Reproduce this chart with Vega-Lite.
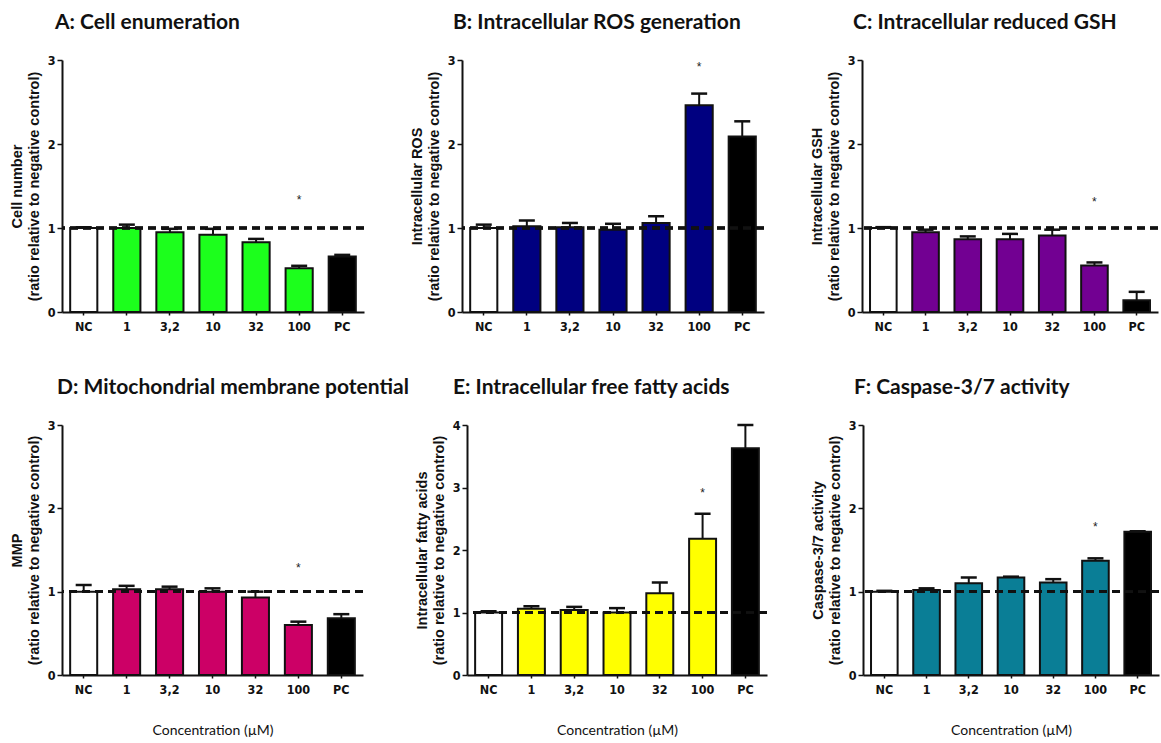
{
  "$schema": "https://vega.github.io/schema/vega-lite/v6.json",
  "background": "white",
  "padding": {"left": 9, "top": 12, "right": 0, "bottom": 0},
  "datasets": {
    "d": [
      {"panel": "A", "conc": "NC", "grp": "NC", "value": 1.0, "hi": 1.01},
      {"panel": "A", "conc": "1", "grp": "A", "value": 1.0, "hi": 1.04},
      {"panel": "A", "conc": "3,2", "grp": "A", "value": 0.95, "hi": 0.99},
      {"panel": "A", "conc": "10", "grp": "A", "value": 0.92, "hi": 0.99},
      {"panel": "A", "conc": "32", "grp": "A", "value": 0.83, "hi": 0.87},
      {"panel": "A", "conc": "100", "grp": "A", "value": 0.52, "hi": 0.55, "star": 1.33},
      {"panel": "A", "conc": "PC", "grp": "PC", "value": 0.66, "hi": 0.68},
      {"panel": "B", "conc": "NC", "grp": "NC", "value": 1.0, "hi": 1.04},
      {"panel": "B", "conc": "1", "grp": "B", "value": 1.02, "hi": 1.09},
      {"panel": "B", "conc": "3,2", "grp": "B", "value": 1.01, "hi": 1.06},
      {"panel": "B", "conc": "10", "grp": "B", "value": 0.98, "hi": 1.05},
      {"panel": "B", "conc": "32", "grp": "B", "value": 1.06, "hi": 1.14},
      {"panel": "B", "conc": "100", "grp": "B", "value": 2.46, "hi": 2.6, "star": 2.92},
      {"panel": "B", "conc": "PC", "grp": "PC", "value": 2.09, "hi": 2.27},
      {"panel": "C", "conc": "NC", "grp": "NC", "value": 1.0, "hi": 1.01},
      {"panel": "C", "conc": "1", "grp": "C", "value": 0.95, "hi": 0.98},
      {"panel": "C", "conc": "3,2", "grp": "C", "value": 0.865, "hi": 0.9},
      {"panel": "C", "conc": "10", "grp": "C", "value": 0.865, "hi": 0.93},
      {"panel": "C", "conc": "32", "grp": "C", "value": 0.91, "hi": 0.98},
      {"panel": "C", "conc": "100", "grp": "C", "value": 0.555, "hi": 0.59, "star": 1.31},
      {"panel": "C", "conc": "PC", "grp": "PC", "value": 0.14, "hi": 0.24},
      {"panel": "D", "conc": "NC", "grp": "NC", "value": 1.0, "hi": 1.08},
      {"panel": "D", "conc": "1", "grp": "D", "value": 1.03, "hi": 1.07},
      {"panel": "D", "conc": "3,2", "grp": "D", "value": 1.03, "hi": 1.06},
      {"panel": "D", "conc": "10", "grp": "D", "value": 1.0, "hi": 1.04},
      {"panel": "D", "conc": "32", "grp": "D", "value": 0.93, "hi": 1.0},
      {"panel": "D", "conc": "100", "grp": "D", "value": 0.6, "hi": 0.64, "star": 1.29},
      {"panel": "D", "conc": "PC", "grp": "PC", "value": 0.68, "hi": 0.73},
      {"panel": "E", "conc": "NC", "grp": "NC", "value": 1.0, "hi": 1.02},
      {"panel": "E", "conc": "1", "grp": "E", "value": 1.06, "hi": 1.1},
      {"panel": "E", "conc": "3,2", "grp": "E", "value": 1.04, "hi": 1.09},
      {"panel": "E", "conc": "10", "grp": "E", "value": 1.0, "hi": 1.07},
      {"panel": "E", "conc": "32", "grp": "E", "value": 1.31, "hi": 1.48},
      {"panel": "E", "conc": "100", "grp": "E", "value": 2.18, "hi": 2.58, "star": 2.91},
      {"panel": "E", "conc": "PC", "grp": "PC", "value": 3.63, "hi": 4.0},
      {"panel": "F", "conc": "NC", "grp": "NC", "value": 1.0, "hi": 1.01},
      {"panel": "F", "conc": "1", "grp": "F", "value": 1.02, "hi": 1.04},
      {"panel": "F", "conc": "3,2", "grp": "F", "value": 1.1, "hi": 1.17},
      {"panel": "F", "conc": "10", "grp": "F", "value": 1.17, "hi": 1.18},
      {"panel": "F", "conc": "32", "grp": "F", "value": 1.11, "hi": 1.15},
      {"panel": "F", "conc": "100", "grp": "F", "value": 1.37, "hi": 1.4, "star": 1.78},
      {"panel": "F", "conc": "PC", "grp": "PC", "value": 1.72, "hi": 1.725}
    ]
  },
  "data": {"name": "d"},
  "spacing": 44,
  "resolve": {"scale": {"x": "independent", "y": "independent"}},
  "vconcat": [
    {
      "spacing": 98,
      "bounds": "flush",
      "resolve": {"scale": {"x": "independent", "y": "independent"}},
      "hconcat": [
        {
          "width": 302, "height": 252,
          "title": {"text": "A: Cell enumeration", "dx": -7},
          "transform": [{"filter": "datum.panel === 'A'"}],
          "encoding": {"x": {"field": "conc", "type": "nominal", "sort": null, "scale": {"paddingInner": 0.37, "paddingOuter": 0.19}, "axis": {"title": null}}},
          "layer": [
            {"mark": {"type": "bar", "stroke": "#111", "strokeWidth": 2}, "encoding": {"y": {"field": "value", "type": "quantitative", "scale": {"domain": [0, 3]}, "axis": {"values": [0, 1, 2, 3], "format": "d", "title": ["Cell number", "(ratio relative to negative control)"]}}, "color": {"field": "grp", "type": "nominal", "scale": {"domain": ["NC", "A", "B", "C", "D", "E", "F", "PC"], "range": ["#ffffff", "#1cff1c", "#000080", "#720092", "#cc0066", "#ffff00", "#0a7e96", "#000000"]}, "legend": null}}},
            {"mark": {"type": "rule", "stroke": "#111", "strokeWidth": 2}, "encoding": {"y": {"field": "value", "type": "quantitative"}, "y2": {"field": "hi"}}},
            {"mark": {"type": "tick", "color": "#111", "thickness": 2.5, "size": 16, "opacity": 1}, "encoding": {"y": {"field": "hi", "type": "quantitative"}}},
            {"mark": {"type": "rule", "stroke": "#111", "strokeWidth": 2.5, "strokeDash": [8, 5]}, "encoding": {"y": {"datum": 1}, "x": null}},
            {"transform": [{"filter": "datum.star != null"}], "mark": {"type": "text", "text": "*", "fontSize": 12, "font": "Liberation Sans", "color": "#222"}, "encoding": {"y": {"field": "star", "type": "quantitative"}}}
          ]
        },
        {
          "width": 302, "height": 252,
          "title": {"text": "B: Intracellular ROS generation", "dx": -9},
          "transform": [{"filter": "datum.panel === 'B'"}],
          "encoding": {"x": {"field": "conc", "type": "nominal", "sort": null, "scale": {"paddingInner": 0.37, "paddingOuter": 0.19}, "axis": {"title": null}}},
          "layer": [
            {"mark": {"type": "bar", "stroke": "#111", "strokeWidth": 2}, "encoding": {"y": {"field": "value", "type": "quantitative", "scale": {"domain": [0, 3]}, "axis": {"values": [0, 1, 2, 3], "format": "d", "title": ["Intracellular ROS", "(ratio relative to negative control)"]}}, "color": {"field": "grp", "type": "nominal", "scale": {"domain": ["NC", "A", "B", "C", "D", "E", "F", "PC"], "range": ["#ffffff", "#1cff1c", "#000080", "#720092", "#cc0066", "#ffff00", "#0a7e96", "#000000"]}, "legend": null}}},
            {"mark": {"type": "rule", "stroke": "#111", "strokeWidth": 2}, "encoding": {"y": {"field": "value", "type": "quantitative"}, "y2": {"field": "hi"}}},
            {"mark": {"type": "tick", "color": "#111", "thickness": 2.5, "size": 16, "opacity": 1}, "encoding": {"y": {"field": "hi", "type": "quantitative"}}},
            {"mark": {"type": "rule", "stroke": "#111", "strokeWidth": 2.5, "strokeDash": [8, 5]}, "encoding": {"y": {"datum": 1}, "x": null}},
            {"transform": [{"filter": "datum.star != null"}], "mark": {"type": "text", "text": "*", "fontSize": 12, "font": "Liberation Sans", "color": "#222"}, "encoding": {"y": {"field": "star", "type": "quantitative"}}}
          ]
        },
        {
          "width": 296, "height": 252,
          "title": {"text": "C: Intracellular reduced GSH", "dx": -9},
          "transform": [{"filter": "datum.panel === 'C'"}],
          "encoding": {"x": {"field": "conc", "type": "nominal", "sort": null, "scale": {"paddingInner": 0.37, "paddingOuter": 0.19}, "axis": {"title": null}}},
          "layer": [
            {"mark": {"type": "bar", "stroke": "#111", "strokeWidth": 2}, "encoding": {"y": {"field": "value", "type": "quantitative", "scale": {"domain": [0, 3]}, "axis": {"values": [0, 1, 2, 3], "format": "d", "title": ["Intracellular GSH", "(ratio relative to negative control)"]}}, "color": {"field": "grp", "type": "nominal", "scale": {"domain": ["NC", "A", "B", "C", "D", "E", "F", "PC"], "range": ["#ffffff", "#1cff1c", "#000080", "#720092", "#cc0066", "#ffff00", "#0a7e96", "#000000"]}, "legend": null}}},
            {"mark": {"type": "rule", "stroke": "#111", "strokeWidth": 2}, "encoding": {"y": {"field": "value", "type": "quantitative"}, "y2": {"field": "hi"}}},
            {"mark": {"type": "tick", "color": "#111", "thickness": 2.5, "size": 16, "opacity": 1}, "encoding": {"y": {"field": "hi", "type": "quantitative"}}},
            {"mark": {"type": "rule", "stroke": "#111", "strokeWidth": 2.5, "strokeDash": [8, 5]}, "encoding": {"y": {"datum": 1}, "x": null}},
            {"transform": [{"filter": "datum.star != null"}], "mark": {"type": "text", "text": "*", "fontSize": 12, "font": "Liberation Sans", "color": "#222"}, "encoding": {"y": {"field": "star", "type": "quantitative"}}}
          ]
        }
      ]
    },
    {
      "spacing": 104,
      "bounds": "flush",
      "resolve": {"scale": {"x": "independent", "y": "independent"}},
      "hconcat": [
        {
          "width": 301, "height": 250,
          "title": {"text": "D: Mitochondrial membrane potential", "dx": -5},
          "transform": [{"filter": "datum.panel === 'D'"}],
          "encoding": {"x": {"field": "conc", "type": "nominal", "sort": null, "scale": {"paddingInner": 0.37, "paddingOuter": 0.19}, "axis": {"title": "Concentration (µM)"}}},
          "layer": [
            {"mark": {"type": "bar", "stroke": "#111", "strokeWidth": 2}, "encoding": {"y": {"field": "value", "type": "quantitative", "scale": {"domain": [0, 3]}, "axis": {"values": [0, 1, 2, 3], "format": "d", "title": ["MMP", "(ratio relative to negative control)"]}}, "color": {"field": "grp", "type": "nominal", "scale": {"domain": ["NC", "A", "B", "C", "D", "E", "F", "PC"], "range": ["#ffffff", "#1cff1c", "#000080", "#720092", "#cc0066", "#ffff00", "#0a7e96", "#000000"]}, "legend": null}}},
            {"mark": {"type": "rule", "stroke": "#111", "strokeWidth": 2}, "encoding": {"y": {"field": "value", "type": "quantitative"}, "y2": {"field": "hi"}}},
            {"mark": {"type": "tick", "color": "#111", "thickness": 2.5, "size": 16, "opacity": 1}, "encoding": {"y": {"field": "hi", "type": "quantitative"}}},
            {"mark": {"type": "rule", "stroke": "#111", "strokeWidth": 2.5, "strokeDash": [8, 5]}, "encoding": {"y": {"datum": 1}, "x": null}},
            {"transform": [{"filter": "datum.star != null"}], "mark": {"type": "text", "text": "*", "fontSize": 12, "font": "Liberation Sans", "color": "#222"}, "encoding": {"y": {"field": "star", "type": "quantitative"}}}
          ]
        },
        {
          "spacing": 96,
          "bounds": "flush",
          "resolve": {"scale": {"x": "independent", "y": "independent"}},
          "hconcat": [
            {
              "width": 300, "height": 250,
              "title": {"text": "E: Intracellular free fatty acids", "dx": -14},
              "transform": [{"filter": "datum.panel === 'E'"}],
              "encoding": {"x": {"field": "conc", "type": "nominal", "sort": null, "scale": {"paddingInner": 0.37, "paddingOuter": 0.19}, "axis": {"title": "Concentration (µM)"}}},
              "layer": [
                {"mark": {"type": "bar", "stroke": "#111", "strokeWidth": 2}, "encoding": {"y": {"field": "value", "type": "quantitative", "scale": {"domain": [0, 4]}, "axis": {"values": [0, 1, 2, 3, 4], "format": "d", "title": ["Intracellular fatty acids", "(ratio relative to negative control)"]}}, "color": {"field": "grp", "type": "nominal", "scale": {"domain": ["NC", "A", "B", "C", "D", "E", "F", "PC"], "range": ["#ffffff", "#1cff1c", "#000080", "#720092", "#cc0066", "#ffff00", "#0a7e96", "#000000"]}, "legend": null}}},
                {"mark": {"type": "rule", "stroke": "#111", "strokeWidth": 2}, "encoding": {"y": {"field": "value", "type": "quantitative"}, "y2": {"field": "hi"}}},
                {"mark": {"type": "tick", "color": "#111", "thickness": 2.5, "size": 16, "opacity": 1}, "encoding": {"y": {"field": "hi", "type": "quantitative"}}},
                {"mark": {"type": "rule", "stroke": "#111", "strokeWidth": 2.5, "strokeDash": [8, 5]}, "encoding": {"y": {"datum": 1}, "x": null}},
                {"transform": [{"filter": "datum.star != null"}], "mark": {"type": "text", "text": "*", "fontSize": 12, "font": "Liberation Sans", "color": "#222"}, "encoding": {"y": {"field": "star", "type": "quantitative"}}}
              ]
            },
            {
              "width": 296, "height": 250,
              "title": {"text": "F: Caspase-3/7 activity", "dx": -9},
              "transform": [{"filter": "datum.panel === 'F'"}],
              "encoding": {"x": {"field": "conc", "type": "nominal", "sort": null, "scale": {"paddingInner": 0.37, "paddingOuter": 0.19}, "axis": {"title": "Concentration (µM)"}}},
              "layer": [
                {"mark": {"type": "bar", "stroke": "#111", "strokeWidth": 2}, "encoding": {"y": {"field": "value", "type": "quantitative", "scale": {"domain": [0, 3]}, "axis": {"values": [0, 1, 2, 3], "format": "d", "title": ["Caspase-3/7 activity", "(ratio relative to negative control)"]}}, "color": {"field": "grp", "type": "nominal", "scale": {"domain": ["NC", "A", "B", "C", "D", "E", "F", "PC"], "range": ["#ffffff", "#1cff1c", "#000080", "#720092", "#cc0066", "#ffff00", "#0a7e96", "#000000"]}, "legend": null}}},
                {"mark": {"type": "rule", "stroke": "#111", "strokeWidth": 2}, "encoding": {"y": {"field": "value", "type": "quantitative"}, "y2": {"field": "hi"}}},
                {"mark": {"type": "tick", "color": "#111", "thickness": 2.5, "size": 16, "opacity": 1}, "encoding": {"y": {"field": "hi", "type": "quantitative"}}},
                {"mark": {"type": "rule", "stroke": "#111", "strokeWidth": 2.5, "strokeDash": [8, 5]}, "encoding": {"y": {"datum": 1}, "x": null}},
                {"transform": [{"filter": "datum.star != null"}], "mark": {"type": "text", "text": "*", "fontSize": 12, "font": "Liberation Sans", "color": "#222"}, "encoding": {"y": {"field": "star", "type": "quantitative"}}}
              ]
            }
          ]
        }
      ]
    }
  ],
  "config": {
    "view": {"stroke": null},
    "title": {"anchor": "start", "frame": "group", "font": "Lato", "fontSize": 21, "fontWeight": "bold", "color": "#111", "offset": 21},
    "axis": {"grid": false, "domainColor": "#111", "domainWidth": 2, "tickColor": "#111", "tickWidth": 1.5, "labelColor": "#111", "titleColor": "#111", "labelFont": "Liberation Sans Narrow, DejaVu Sans Condensed, sans-serif", "labelFontSize": 12.5, "labelFontWeight": "bold"},
    "axisX": {"labelAngle": 0, "tickSize": 3, "labelPadding": 5, "titleFont": "Lato", "titleFontSize": 14, "titleFontWeight": "normal", "titlePadding": 28},
    "axisY": {"tickSize": 5, "labelPadding": 2, "titleFont": "Liberation Sans", "titleFontSize": 14.5, "titleFontWeight": "bold", "titlePadding": 6, "titleLineHeight": 17}
  }
}
